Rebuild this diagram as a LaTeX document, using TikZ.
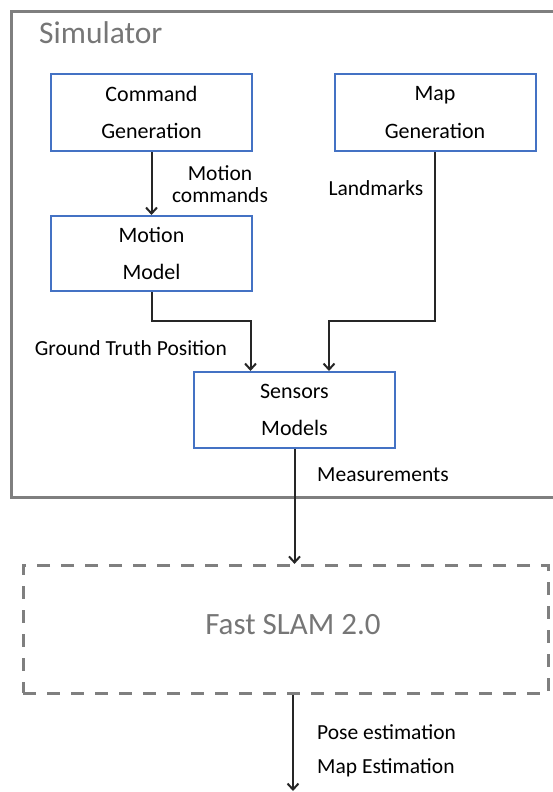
\documentclass[tikz,border=0pt]{standalone}
\usepackage{fontspec}
\setmainfont{Carlito}
\usetikzlibrary{arrows.meta,calc}
\definecolor{boxblue}{HTML}{4472C4}
\definecolor{framegray}{HTML}{7F7F7F}
\definecolor{titlegray}{HTML}{767676}
\definecolor{inkdark}{HTML}{262626}
\tikzset{
  blockbox/.style={draw=boxblue, line width=2pt, rectangle, inner sep=0pt,
    minimum width=201pt, align=center, text=black,
    font=\fontsize{22}{37.7}\selectfont},
  flowarrow/.style={draw=inkdark, line width=2pt,
    -{Straight Barb[length=6pt,width=11pt,line width=2pt]}},
  flowlabel/.style={inner sep=0pt, text=black, font=\fontsize{21.5}{22.3}\selectfont},
  grouptitle/.style={inner sep=0pt, text=titlegray},
}
\begin{document}
\begin{tikzpicture}[x=1pt, y=-1pt]
\useasboundingbox (0,0) rectangle (553,792);

% simulator frame (open on the right)
\draw[framegray, line width=3pt] (553,12) -- (11,12) -- (11,497) -- (553,497);
\node[grouptitle, anchor=west, font=\fontsize{31.5}{31.5}\selectfont] (simtitle) at (39,33) {Simulator};

% simulator blocks
\node[blockbox, minimum height=77pt] (cmd) at (151.5,112.5) {Command\\Generation};
\node[blockbox, minimum height=77pt] (map) at (435,112.5) {Map\\Generation};
\node[blockbox, minimum height=75pt] (mot) at (151.5,253.5) {Motion\\Model};
\node[blockbox, minimum height=76pt] (sen) at (294.5,410) {Sensors\\Models};

% SLAM block
\node[draw=framegray, line width=3pt, dash pattern=on 13pt off 11pt, rectangle,
      minimum width=525.5pt, minimum height=128pt, inner sep=0pt] (fast) at (285.75,629.4) {};
\node[grouptitle, font=\fontsize{31}{31}\selectfont] (fastlabel) at (293,625) {Fast SLAM 2.0};

% connectors
\draw[flowarrow] (cmd.south) -- (mot.north);
\draw[flowarrow] (mot.south) -- ++(0,29) -| ([xshift=57.5pt]sen.north west);
\draw[flowarrow] (map.south) -- ++(0,169) -| ([xshift=136pt]sen.north west);
\draw[flowarrow] (sen.south) -- (sen.south |- fast.north);
\coordinate (outend) at (293,791);
\draw[flowarrow] (outend |- fast.south) -- (outend);

% connector labels
\node[flowlabel, align=center] (lblcmd) at (220,184) {Motion\\commands};
\node[flowlabel, anchor=west] (lblland) at (328.3,188.3) {Landmarks};
\node[flowlabel, anchor=west] (lblgt) at (34.6,348) {Ground Truth Position};
\node[flowlabel, anchor=west] (lblmeas) at (317,475) {Measurements};
\node[flowlabel, anchor=west] (lblpose) at (317,731.7) {Pose estimation};
\node[flowlabel, anchor=west] (lblmapest) at (317,768) {Map Estimation};
\end{tikzpicture}
\end{document}
